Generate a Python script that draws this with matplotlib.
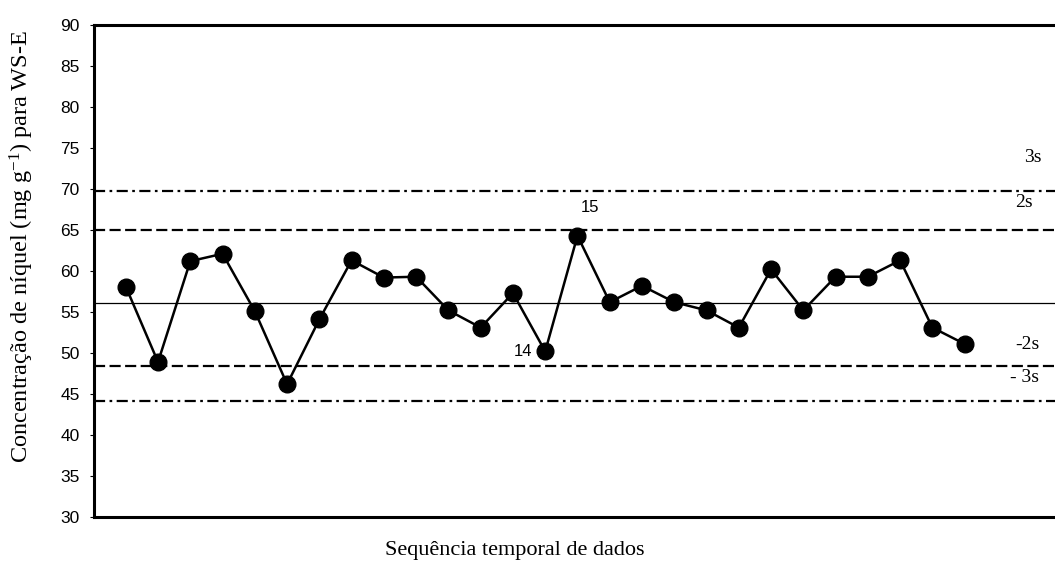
import matplotlib
matplotlib.use("Agg")
import matplotlib.pyplot as plt

# ---- data ----
seq = list(range(1, 28))
conc = [58.1, 48.9, 61.2, 62.1, 55.1, 46.2, 54.1, 61.3, 59.2, 59.3, 55.2, 53.1,
        57.3, 50.2, 64.3, 56.2, 58.2, 56.2, 55.2, 53.1, 60.2, 55.2, 59.3, 59.3,
        61.3, 53.1, 51.1]
mean_val = 56.1
limits = [69.7, 65.0, 48.45, 44.2]
limit_labels = ["3s", "2s", "-2s", "- 3s"]
yticks = [30, 35, 40, 45, 50, 55, 60, 65, 70, 75, 80, 85, 90]
annot_idx = [14, 15]

plt.rcParams['mathtext.default'] = 'regular'

fig = plt.figure(figsize=(10.55, 5.65), dpi=100)
ax = fig.add_axes([93.5 / 1055, 1 - 517 / 565, 1 - 93.5 / 1055, (517 - 25) / 565])

ax.set_xlim(0, 29.8)
ax.set_ylim(30, 90)

# control lines
styles = [(0, (5, 2, 1.2, 2)), (0, (5, 2)), (0, (5, 2)), (0, (5, 2, 1.2, 2))]
for val, ls in zip(limits, styles):
    ax.axhline(val, color='black', lw=1.6, ls=ls, zorder=1)
ax.axhline(mean_val, color='black', lw=0.9, zorder=1)

# data
ax.plot(seq, conc, color='black', lw=1.8, marker='o', ms=12, zorder=3)

# annotations for points 14 and 15
ax.annotate(str(annot_idx[0]), (seq[annot_idx[0] - 1], conc[annot_idx[0] - 1]),
            xytext=(-16, 0), textcoords='offset points', ha='center', va='center',
            fontsize=12, family='Liberation Sans')
ax.annotate(str(annot_idx[1]), (seq[annot_idx[1] - 1], conc[annot_idx[1] - 1]),
            xytext=(9, 20), textcoords='offset points', ha='center', va='center',
            fontsize=12, family='Liberation Sans')

# right-hand limit labels
offsets = [4.1, 3.3, 2.6, 2.8]
xpos = [29.1, 28.85, 28.95, 28.85]
for val, lab, off, xp in zip(limits, limit_labels, offsets, xpos):
    ax.text(xp, val + off, lab, ha='center', va='center', fontsize=14,
            family='Liberation Serif')

ax.set_yticks(yticks)
ax.set_yticklabels([str(t) for t in yticks], family='Liberation Sans', fontsize=12.5)
ax.set_xticks([])
ax.tick_params(axis='y', direction='out', length=3, width=0.8, pad=7)

for s in ['left', 'bottom', 'top']:
    ax.spines[s].set_linewidth(2.2)
ax.spines['right'].set_visible(False)

fig.text(22 / 1055, 1 - 247 / 565, "Concentração de níquel (mg g$^{-1}$) para WS-E",
         family='Liberation Serif', fontsize=17.5, rotation=90,
         ha='center', va='center')
fig.text(515 / 1055, 1 - 551 / 565, "Sequência temporal de dados",
         family='Liberation Serif', fontsize=16, ha='center', va='center')

fig.savefig("out.png", dpi=100)
